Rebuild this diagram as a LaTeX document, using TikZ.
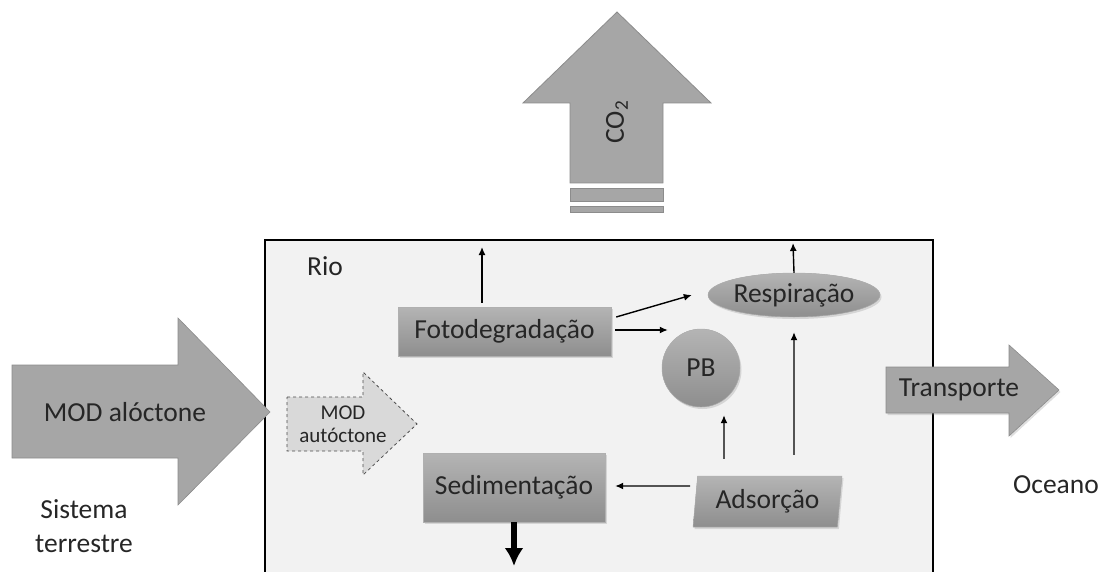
\documentclass[tikz,border=0pt]{standalone}
\usepackage{fontspec}
\setmainfont{Carlito}
\usepackage{tikz}
\usetikzlibrary{arrows,arrows.meta,shapes.geometric,shadows}
\definecolor{bigarrow}{HTML}{A6A6A6}
\definecolor{bigedge}{HTML}{8C8C8C}
\definecolor{autofill}{HTML}{D9D9D9}
\definecolor{river}{HTML}{F2F2F2}
\definecolor{boxtop}{HTML}{B4B4B4}
\definecolor{boxbottom}{HTML}{8E8E8E}
\definecolor{ink}{HTML}{262626}
\tikzset{%
    >={Latex[length=8pt,width=7pt]},
    txt/.style={text=ink, font=\fontsize{27.5}{34}\selectfont, inner sep=0pt},
    proc/.style={txt, fill=boxbottom, top color=boxtop, bottom color=boxbottom, draw=boxbottom!70,
        drop shadow={opacity=0.25, shadow xshift=1.5pt, shadow yshift=-2pt}},
    flow/.style={->, line width=1.4pt, black}
}

\begin{document}
\begin{tikzpicture}[x=1pt, y=-1pt]
        \useasboundingbox (0,0) rectangle (1102,572);

        % river
        \fill[river] (265,240) rectangle (933,572);
        \draw[line width=1.3pt] (265,572) -- (265,240) -- (933,240) -- (933,572);
        \node[txt] (rio) at (325,266) {Rio};

        % big arrows
        \filldraw[fill=bigarrow, draw=bigedge, line width=0.8pt] (570,183) -- (570,103) -- (523,103) -- (617,12) -- (711,103) -- (663,103) -- (663,183) -- cycle;
        \filldraw[fill=bigarrow, draw=bigedge, line width=0.6pt] (570,188) rectangle (663,201);
        \filldraw[fill=bigarrow, draw=bigedge, line width=0.6pt] (570,206) rectangle (663,212);
        \node[txt, rotate=90] (co2) at (617,122) {CO\textsubscript{2}};

        \filldraw[fill=bigarrow, draw=bigedge, line width=0.6pt] (12,365) -- (178,365) -- (178,318) -- (270,412) -- (178,505) -- (178,458) -- (12,458) -- cycle;
        \node[txt] (alo) at (125,412) {MOD alóctone};

        \filldraw[fill=autofill, draw=black!70, dashed, line width=0.8pt] (287,397) -- (363,397) -- (363,372) -- (417,424) -- (363,475) -- (363,451) -- (287,451) -- cycle;
        \node[txt, font=\fontsize{21}{23}\selectfont, align=center] (auto) at (343,424) {MOD\\autóctone};

        \filldraw[fill=bigarrow, draw=bigedge, line width=0.6pt, drop shadow={opacity=0.25, shadow xshift=1.5pt, shadow yshift=-2pt}] (886,367) -- (1009,367) -- (1009,345) -- (1059,390) -- (1009,436) -- (1009,413) -- (886,413) -- cycle;
        \node[txt] (trans) at (959,390) {Transporte};

        \node[txt, align=center] (terra) at (84,526) {Sistema\\terrestre};
        \node[txt] (oceano) at (1056,485) {Oceano};

        % processes
        \node[proc, minimum width=213pt, minimum height=49pt] (foto) at (504.5,331.5) {Fotodegradação};
        \node[proc, minimum width=182pt, minimum height=69pt] (sed) at (514,487.5) {Sedimentação};
        \node[proc, ellipse, minimum width=172pt, minimum height=44pt] (resp) at (794,295) {Respiração};
        \node[proc, circle, minimum size=78pt] (pb) at (701,368) {PB};
        \node[proc, trapezium, trapezium left angle=79, trapezium right angle=101, trapezium stretches body,
            minimum width=149pt, minimum height=51pt] (adsor) at (767.5,501.5) {Adsorção};

        \coordinate (fotoout) at (482,247);
        \coordinate (respout) at (793,243);
        \coordinate (sedout) at (514,566);

        % fluxes
        \draw[flow] ([xshift=-22.5pt,yshift=4pt]foto.north) -- (fotoout);
        \draw[flow] (resp.north) -- (respout);
        \draw[flow] ([xshift=5pt,yshift=14.5pt]foto.east) -- ([xshift=-16pt]resp.west);
        \draw[flow] ([xshift=4pt,yshift=1.5pt]foto.east) -- ([xshift=6pt,yshift=38pt]pb.west);
        \draw[flow] ([xshift=-43.5pt,yshift=17pt]adsor.north) -- ([xshift=23pt,yshift=-8pt]pb.south);
        \draw[flow] ([xshift=26.5pt,yshift=21pt]adsor.north) -- ([yshift=-15pt]resp.south);
        \draw[flow] ([xshift=-5pt,yshift=15.5pt]adsor.west) -- ([xshift=10pt,yshift=1.5pt]sed.east);
        \draw[-{Latex[length=18pt,width=19pt]}, line width=6pt] (sed.south) -- (sedout);
    \end{tikzpicture}
\end{document}
